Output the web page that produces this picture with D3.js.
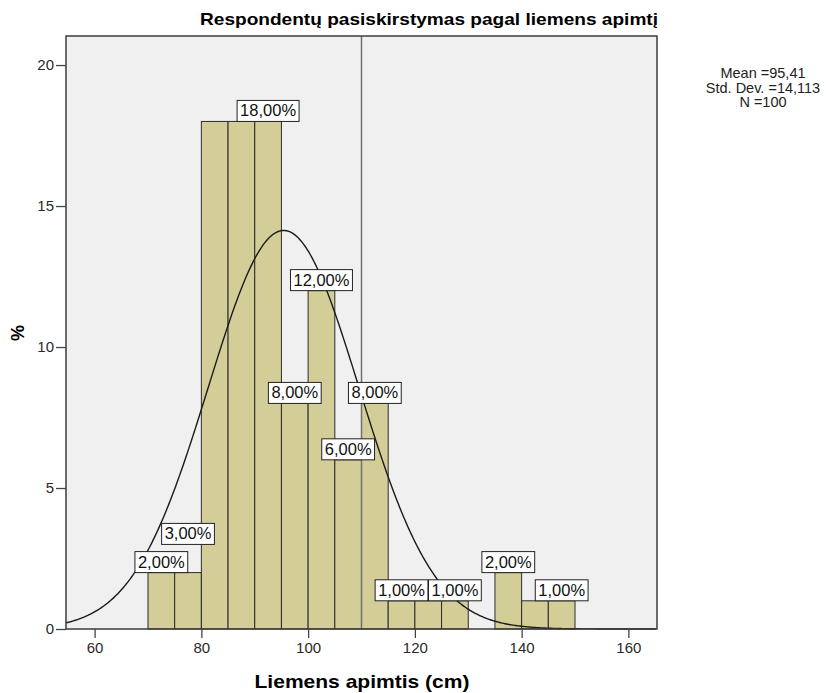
<!DOCTYPE html>
<html>
<head>
<meta charset="utf-8">
<script src="https://cdn.jsdelivr.net/npm/d3@7/dist/d3.min.js"></script>
<style>
  body { margin: 0; background: #fff; }
  svg text { font-family: Arial, "Liberation Sans", sans-serif; }
</style>
</head>
<body>
<div id="chart"></div>
<script>
// histogram of waist size, SPSS style

// bins (cm) and percent of respondents
var binStarts = [70, 75, 80, 85, 90, 95, 100, 105, 110, 115, 120, 125, 135, 140, 145];
var binPct    = [2, 2, 18, 18, 18, 8, 12, 6, 8, 1, 1, 1, 2, 1, 1];
var binWidth = 5;

// value labels as shown on the chart
var labelX   = [72.5, 77.5, 92.5, 97.5, 102.5, 107.5, 112.5, 117.5, 127.5, 137.5, 147.5];
var labelPct = [2, 3, 18, 8, 12, 6, 8, 1, 1, 2, 1];

var xTicks = [60, 80, 100, 120, 140, 160];
var yTicks = [0, 5, 10, 15, 20];

var meanVal = 95.41;
var sdVal = 14.113;
var nVal = 100;
var refLine = 110;

var statLines = ["Mean =95,41", "Std. Dev. =14,113", "N =100"];

var width = 826, height = 693;
var plot = {left: 66, right: 657, top: 36, bottom: 629};

var svg = d3.select("#chart").append("svg")
    .attr("width", width)
    .attr("height", height);

var x = d3.scaleLinear()
    .domain([54.64, 165.36])
    .range([plot.left, plot.right]);

var y = d3.scaleLinear()
    .domain([0, 21.03])
    .range([plot.bottom, plot.top]);

// plot background
svg.append("rect")
    .attr("x", plot.left)
    .attr("y", plot.top)
    .attr("width", plot.right - plot.left)
    .attr("height", plot.bottom - plot.top)
    .attr("fill", "#f0f0f0");

// bars
svg.selectAll(".bar")
    .data(binStarts)
    .enter()
    .append("rect")
    .attr("class", "bar")
    .attr("x", function(d) { return x(d); })
    .attr("y", function(d, i) { return y(binPct[i]); })
    .attr("width", function(d) { return x(d + binWidth) - x(d); })
    .attr("height", function(d, i) { return y(0) - y(binPct[i]); })
    .attr("fill", "#d3ce98")
    .attr("stroke", "#2b2b2b")
    .attr("stroke-width", 1);

// reference line
svg.append("line")
    .attr("x1", x(refLine)).attr("x2", x(refLine))
    .attr("y1", plot.top).attr("y2", plot.bottom)
    .attr("stroke", "#707070")
    .attr("stroke-width", 1.5);

// normal curve, scaled to percent per bin
var curvePts = d3.range(54.64, 165.36, 0.25).map(function(v) {
    var z = (v - meanVal) / sdVal;
    var dens = Math.exp(-0.5 * z * z) / (sdVal * Math.sqrt(2 * Math.PI));
    return [v, dens * 100 * binWidth];
});

svg.append("path")
    .datum(curvePts)
    .attr("fill", "none")
    .attr("stroke", "#1a1a1a")
    .attr("stroke-width", 1.4)
    .attr("d", d3.line()
        .x(function(d) { return x(d[0]); })
        .y(function(d) { return y(d[1]); }));

// frame
svg.append("rect")
    .attr("x", plot.left)
    .attr("y", plot.top)
    .attr("width", plot.right - plot.left)
    .attr("height", plot.bottom - plot.top)
    .attr("fill", "none")
    .attr("stroke", "#3c3c3c")
    .attr("stroke-width", 1.5);

// axes
var xAxis = svg.append("g")
    .attr("transform", "translate(0," + plot.bottom + ")")
    .call(d3.axisBottom(x).tickValues(xTicks).tickSize(9).tickPadding(4));

var yAxis = svg.append("g")
    .attr("transform", "translate(" + plot.left + ",0)")
    .call(d3.axisLeft(y).tickValues(yTicks).tickSize(10).tickPadding(2));

[xAxis, yAxis].forEach(function(g) {
    g.select(".domain").remove();
    g.selectAll("line").attr("stroke", "#444").attr("stroke-width", 1.3);
    g.selectAll("text")
        .attr("fill", "#2a2a2a")
        .style("font-size", "15px")
        .style("font-family", "Arial, 'Liberation Sans', sans-serif");
});

// value labels
var fmt = d3.formatLocale({decimal: ",", thousands: ".", grouping: [3], currency: ["", ""]}).format(".2f");

var lab = svg.selectAll(".vlabel")
    .data(labelX)
    .enter()
    .append("g")
    .attr("class", "vlabel")
    .attr("transform", function(d, i) {
        return "translate(" + x(d) + "," + y(labelPct[i]) + ")";
    });

lab.append("rect").attr("class", "box");
lab.append("text")
    .attr("text-anchor", "middle")
    .attr("y", -5)
    .style("font-size", "16.5px")
    .attr("fill", "#111")
    .text(function(d, i) { return fmt(labelPct[i]) + "%"; });

lab.each(function() {
    var g = d3.select(this);
    var w = g.select("text").node().getComputedTextLength() + 6;
    g.select("rect")
        .attr("x", -w / 2)
        .attr("y", -21)
        .attr("width", w)
        .attr("height", 21)
        .attr("fill", "#fff")
        .attr("stroke", "#222")
        .attr("stroke-width", 1);
});

// title
svg.append("text")
    .attr("x", 429)
    .attr("y", 25)
    .attr("text-anchor", "middle")
    .attr("textLength", 458)
    .attr("lengthAdjust", "spacingAndGlyphs")
    .style("font-size", "17px")
    .style("font-weight", "bold")
    .text("Respondentų pasiskirstymas pagal liemens apimtį");

// axis titles
svg.append("text")
    .attr("x", 362)
    .attr("y", 688)
    .attr("text-anchor", "middle")
    .attr("textLength", 215)
    .attr("lengthAdjust", "spacingAndGlyphs")
    .style("font-size", "18.5px")
    .style("font-weight", "bold")
    .text("Liemens apimtis (cm)");

svg.append("text")
    .attr("transform", "translate(24,333) rotate(-90)")
    .attr("text-anchor", "middle")
    .style("font-size", "18px")
    .style("font-weight", "bold")
    .text("%");

// stats box text
svg.selectAll(".stat")
    .data(statLines)
    .enter()
    .append("text")
    .attr("class", "stat")
    .attr("x", 763)
    .attr("y", function(d, i) { return 78 + i * 14.7; })
    .attr("text-anchor", "middle")
    .style("font-size", "14.5px")
    .attr("fill", "#222")
    .text(function(d) { return d; });
</script>
</body>
</html>
